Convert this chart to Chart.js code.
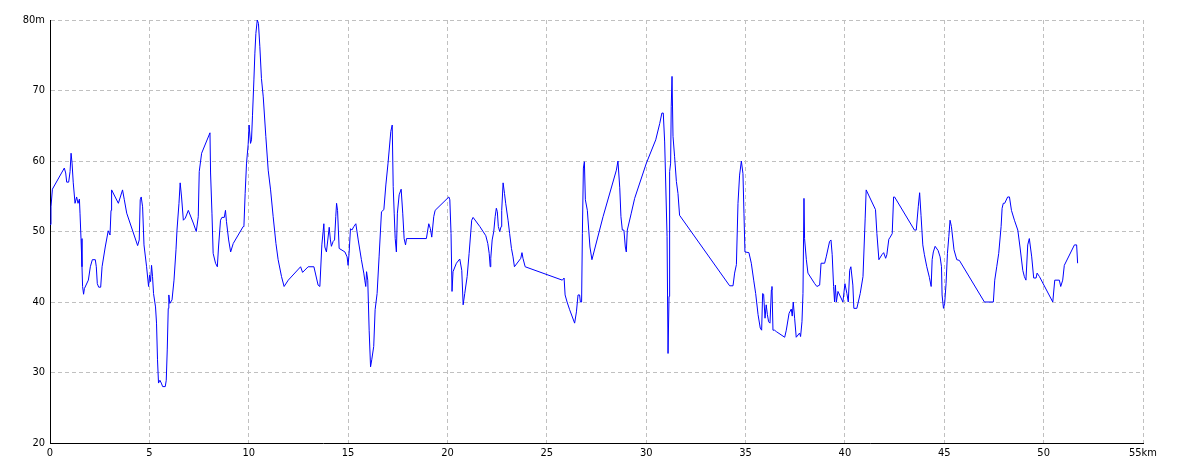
<!DOCTYPE html>
<html>
<head>
<meta charset="utf-8">
<script src="https://cdn.jsdelivr.net/npm/chart.js@4.4.1/dist/chart.umd.min.js"></script>
<style>
  html, body { margin: 0; padding: 0; background: #fff; }
  #wrap { width: 1184px; height: 473px; }
</style>
</head>
<body>
<div id="wrap"><canvas id="profile" width="1184" height="473"></canvas></div>
<script>
// distance (km) and elevation (m) along the route
var dist = [
  0, 0.05, 0.12, 0.72, 0.79, 0.84, 0.94, 1.01, 1.06, 1.11, 1.17, 1.26, 1.34, 1.41, 1.48, 1.51, 1.56, 1.61, 1.64, 1.69,
  1.73, 1.93, 2.03, 2.13, 2.28, 2.33, 2.38, 2.45, 2.55, 2.62, 2.78, 2.93, 3.02, 3.07, 3.10, 3.44, 3.65, 3.74, 3.86, 4.41,
  4.49, 4.54, 4.59, 4.66, 4.73, 4.86, 4.96, 5.01, 5.06, 5.11, 5.16, 5.21, 5.31, 5.36, 5.41, 5.46, 5.53, 5.60, 5.67, 5.80,
  5.85, 5.90, 5.95, 5.98, 6.03, 6.14, 6.24, 6.34, 6.39, 6.49, 6.55, 6.62, 6.71, 6.81, 6.96, 7.21, 7.36, 7.46, 7.51, 7.63,
  8.05, 8.08, 8.15, 8.21, 8.33, 8.42, 8.48, 8.58, 8.65, 8.77, 8.83, 8.88, 8.99, 9.09, 9.22, 9.72, 9.76, 9.82, 9.89, 9.97,
  10.02, 10.09, 10.14, 10.19, 10.26, 10.31, 10.36, 10.43, 10.49, 10.56, 10.64, 10.73, 10.86, 10.98, 11.10, 11.23, 11.37, 11.48, 11.65, 11.78,
  11.99, 12.61, 12.71, 12.99, 13.28, 13.49, 13.58, 13.68, 13.78, 13.83, 13.91, 14.05, 14.11, 14.16, 14.25, 14.32, 14.38, 14.42, 14.47, 14.55,
  14.84, 14.95, 15.00, 15.05, 15.12, 15.19, 15.29, 15.39, 15.51, 15.67, 15.79, 15.84, 15.89, 15.93, 15.99, 16.06, 16.13, 16.19, 16.29, 16.36,
  16.46, 16.56, 16.68, 16.80, 16.90, 17.01, 17.15, 17.22, 17.27, 17.32, 17.37, 17.43, 17.48, 17.57, 17.67, 17.75, 17.82, 17.89, 17.94, 18.94,
  19.06, 19.14, 19.21, 19.31, 19.38, 20.07, 20.12, 20.18, 20.23, 20.28, 20.45, 20.62, 20.72, 20.79, 20.87, 20.99, 21.09, 21.22, 21.29, 21.63,
  21.93, 22.03, 22.10, 22.15, 22.18, 22.25, 22.33, 22.40, 22.46, 22.51, 22.56, 22.63, 22.70, 22.73, 22.80, 22.87, 22.93, 23.05, 23.13, 23.22,
  23.30, 23.37, 23.69, 23.75, 23.80, 23.91, 25.78, 25.87, 25.92, 26.02, 26.15, 26.40, 26.49, 26.57, 26.65, 26.69, 26.75, 26.79, 26.84, 26.89,
  26.94, 27.04, 27.11, 27.17, 27.27, 27.83, 28.50, 28.58, 28.67, 28.73, 28.80, 28.88, 28.95, 29.00, 29.05, 29.25, 29.42, 30.01, 30.48, 30.68,
  30.79, 30.86, 30.93, 31.05, 31.10, 31.15, 31.18, 31.23, 31.26, 31.30, 31.35, 31.43, 31.52, 31.60, 31.68, 34.20, 34.37, 34.45, 34.54, 34.62,
  34.70, 34.79, 34.87, 34.92, 34.97, 35.17, 35.29, 35.41, 35.51, 35.63, 35.74, 35.81, 35.86, 35.91, 35.98, 36.04, 36.10, 36.16, 36.23, 36.30,
  36.33, 36.38, 36.46, 36.55, 36.97, 37.05, 37.19, 37.30, 37.35, 37.40, 37.47, 37.55, 37.72, 37.77, 37.84, 37.89, 37.94, 37.97, 38.06, 38.14,
  38.48, 38.59, 38.73, 38.80, 38.98, 39.06, 39.23, 39.30, 39.36, 39.43, 39.48, 39.52, 39.57, 39.65, 39.90, 40.00, 40.10, 40.17, 40.24, 40.30,
  40.40, 40.45, 40.60, 40.77, 40.91, 41.02, 41.07, 41.54, 41.61, 41.71, 41.86, 41.95, 42.05, 42.11, 42.21, 42.28, 42.38, 42.45, 42.50, 43.50,
  43.59, 43.69, 43.76, 43.83, 43.92, 44.00, 44.12, 44.25, 44.34, 44.39, 44.45, 44.54, 44.69, 44.79, 44.86, 44.89, 44.96, 45.02, 45.09, 45.16,
  45.23, 45.29, 45.36, 45.49, 45.63, 45.76, 47.02, 47.47, 47.54, 47.64, 47.74, 47.86, 47.91, 47.97, 48.04, 48.19, 48.28, 48.38, 48.53, 48.70,
  48.81, 48.95, 49.03, 49.11, 49.20, 49.28, 49.40, 49.50, 49.62, 49.67, 49.79, 50.46, 50.56, 50.79, 50.86, 50.96, 51.04, 51.55, 51.66, 51.71
];
var elev = [
  51, 53.5, 56, 59, 58.3, 57, 57, 58.5, 61.1, 59.7, 56.9, 54, 54.9, 54, 54.6, 52.6, 49, 45, 42.2, 41.1,
  41.9, 43.1, 45, 46, 46, 45, 42.6, 42.1, 42.1, 45, 47.8, 50.1, 49.5, 53, 55.9, 54, 55.9, 54.5, 52.6, 48,
  48.8, 54.5, 54.9, 53.5, 48.1, 45, 42.2, 43.8, 42.9, 45.2, 43.6, 41.2, 39.3, 37, 31.8, 28.5, 28.9, 28.5, 28, 28,
  28.9, 33.2, 39.1, 41, 39.8, 40.3, 43.1, 47.4, 50.2, 54, 56.9, 54.9, 51.6, 51.9, 53, 51.2, 50, 52.1, 58.5, 61.1,
  64, 58.3, 52.6, 46.9, 45.5, 45, 47.8, 51.6, 52, 52, 53, 51.4, 48.8, 47.1, 48.3, 50.7, 50.9, 55.4, 59.7, 62.3,
  65.1, 62.5, 63, 66.5, 71.5, 75.3, 78.1, 80, 79.5, 76.2, 71.7, 69.1, 63.5, 58.7, 55.9, 52.1, 48.3, 46, 43.6, 42.2,
  43.1, 45, 44.2, 45, 45, 42.4, 42.2, 48.1, 51.1, 47.8, 47.1, 50.6, 48.8, 47.9, 48.6, 48.8, 52.1, 54, 53, 47.6,
  47.1, 46.4, 45.2, 46.9, 50.4, 50.2, 50.7, 51.1, 48.8, 46, 44.1, 43.1, 42.2, 44.3, 43.1, 36, 30.8, 31.8, 33.7, 38.9,
  41.2, 46.4, 52.8, 53.1, 56.6, 59.7, 64.2, 65.1, 56.4, 52.6, 49, 47.1, 52.6, 55.2, 56, 52.6, 49, 48.1, 49, 49,
  51.1, 50.4, 49.2, 52.1, 53, 54.9, 54.5, 49.7, 41.5, 44.3, 45.5, 46.1, 44.5, 39.6, 41.2, 43.6, 46.9, 51.6, 52, 50.7,
  49.4, 48.3, 46.9, 45, 46.2, 48.8, 50, 52.1, 53.3, 52.8, 50.7, 50, 50.7, 53, 56.9, 55.4, 54, 51.6, 49.7, 47.6,
  46.4, 45, 46.2, 47, 46.2, 45, 43.1, 43.4, 41, 40, 38.9, 37, 38.6, 41, 41, 40, 40, 49.7, 59, 59.9,
  54.5, 53, 50.2, 47.8, 46, 52.1, 58.7, 60, 56.2, 52.1, 50.2, 50.2, 47.8, 47.1, 50.2, 52.6, 54.7, 59.7, 63, 65.3,
  66.8, 66.8, 62.7, 49.3, 32.7, 40.8, 58.5, 59.7, 67.7, 72, 63.5, 60.6, 57.1, 55.4, 52.3, 42.3, 42.3, 44.1, 45.3, 54,
  58, 60, 58.2, 52.6, 47.1, 47, 45.5, 43.1, 41.2, 38.2, 36.3, 36, 41.2, 41.1, 37.7, 39.6, 38.2, 37.2, 37, 41.7,
  42.2, 36, 36, 35.8, 35, 36, 38.4, 39, 38, 40, 37.7, 35, 35.6, 35.1, 37.2, 41.2, 54.7, 49, 46, 44.1,
  42.6, 42.2, 42.4, 45.5, 45.5, 46.4, 48.6, 48.8, 46.7, 42.2, 40, 42.4, 40, 41.5, 40, 42.6, 41.2, 40, 44.5, 45,
  42.4, 39.1, 39.1, 41.2, 43.6, 51.9, 55.9, 53.1, 49.7, 46, 46.7, 47, 46.2, 46.7, 48.9, 49.2, 49.7, 54.9, 54.9, 50.2,
  50.2, 53.5, 55.5, 52.3, 48.1, 46.7, 45, 43.5, 42.2, 46, 47.1, 47.9, 47.3, 46.4, 45, 41, 39.1, 39.8, 42.6, 46.9,
  49.3, 51.6, 50.7, 47.4, 46, 45.9, 40, 40, 43.1, 45, 46.9, 50.7, 53.3, 54, 54, 54.9, 54.9, 53, 51.6, 50.2,
  47.8, 44.5, 43.6, 43.1, 48.1, 49, 46.4, 43.4, 43.4, 44.1, 43.6, 40, 43.1, 43.1, 42.2, 43.1, 45.2, 48.1, 48.1, 45.5
];

// axis ranges and tick steps
var xRange = [0, 55];
var yRange = [20, 80];
var xStep = 5;
var yStep = 10;

var points = dist.map(function (d, i) { return { x: d, y: elev[i] }; });

// solid black frame round the plot area
var frame = {
  id: 'frame',
  afterDraw: function (chart) {
    var a = chart.chartArea;
    var c = chart.ctx;
    c.save();
    c.strokeStyle = '#000';
    c.lineWidth = 1;
    c.strokeRect(Math.round(a.left) + 0.5, Math.round(a.top) + 0.5,
      Math.round(a.right - a.left), Math.round(a.bottom - a.top));
    c.restore();
  }
};

var tickFont = { family: "'DejaVu Sans Condensed', 'Liberation Sans', sans-serif", size: 11 };

var profile = document.getElementById('profile').getContext('2d');
var myChart = new Chart(profile, {
  type: 'line',
  data: {
    datasets: [{
      label: 'elevation',
      data: points,
      borderColor: '#0000ff',
      borderWidth: 1,
      pointRadius: 0,
      fill: false,
      tension: 0
    }]
  },
  options: {
    responsive: false,
    animation: false,
    parsing: true,
    layout: { padding: { top: 20, right: 41, bottom: 0, left: 0 } },
    plugins: {
      legend: { display: false },
      tooltip: { enabled: false }
    },
    scales: {
      x: {
        type: 'linear',
        min: xRange[0],
        max: xRange[1],
        afterFit: function (s) { s.height = 30; },
        ticks: {
          stepSize: xStep,
          color: '#000',
          font: tickFont,
          padding: 4,
          maxRotation: 0,
          callback: function (v) { return v === xRange[1] ? v + 'km' : v; }
        },
        grid: { color: '#c0c0c0', drawTicks: false, tickBorderDash: [4, 3] },
        border: { display: true, color: '#000', dash: [4, 3] }
      },
      y: {
        type: 'linear',
        min: yRange[0],
        max: yRange[1],
        afterFit: function (s) { s.width = 50; },
        ticks: {
          stepSize: yStep,
          color: '#000',
          font: tickFont,
          padding: 5,
          callback: function (v) { return v === yRange[1] ? v + 'm' : v; }
        },
        grid: { color: '#c0c0c0', drawTicks: false },
        border: { display: true, color: '#000', dash: [4, 3] }
      }
    }
  }
});
</script>
</body>
</html>
